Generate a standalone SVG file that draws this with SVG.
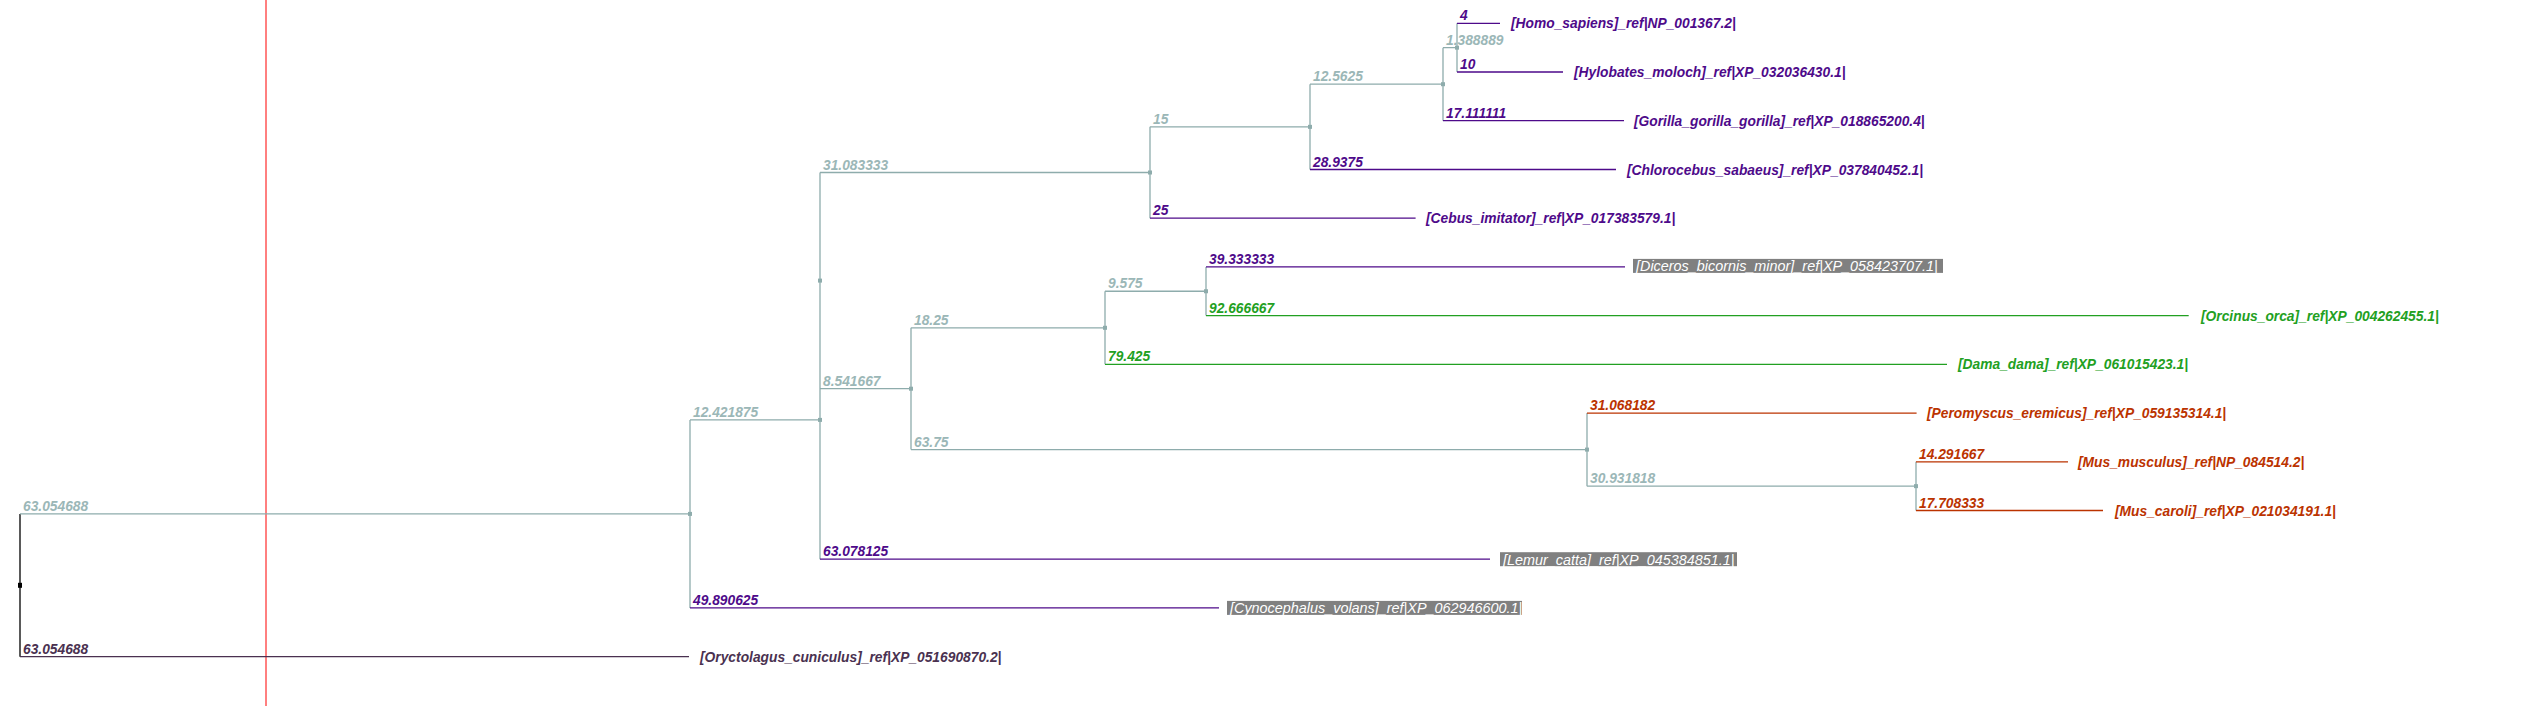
<svg xmlns="http://www.w3.org/2000/svg" width="2542" height="706" viewBox="0 0 2542 706">
<style>
text{font-family:"Liberation Sans",Arial,sans-serif;font-style:italic;font-weight:bold;font-size:13.8px}
.g{stroke:#8eacac;stroke-width:1.3;fill:none}
.p{stroke:#4e0a8a;stroke-width:1.3;fill:none}
.gr{stroke:#22a022;stroke-width:1.3;fill:none}
.r{stroke:#bb3300;stroke-width:1.3;fill:none}
.d{stroke:#4a3150;stroke-width:1.3;fill:none}
.k{stroke:#000;stroke-width:1.3;fill:none}
.tg{fill:#9bb7b7}
.tp{fill:#4e0a8a}
.tgr{fill:#22a022}
.tr{fill:#bb3300}
.td{fill:#4a3150}
.box{fill:#808080}
.tb{fill:#fff;font-weight:normal;font-size:14.4px}
.sq{fill:#8eacac}
</style>
<rect width="2542" height="706" fill="#fff"/>
<line x1="266" y1="0" x2="266" y2="706" stroke="#ff0000" stroke-width="1"/>
<g id="connectors">
<path class="k" d="M20 513.9V656.7"/>
<path class="g" d="M20 513.9H690"/>
<path class="d" d="M20 656.7H689"/>
<path class="g" d="M690 419.9V607.9M690 419.9H820"/>
<path class="p" d="M690 607.9H1219"/>
<path class="g" d="M820 172.5V559.2M820 172.5H1150M820 388.7H911"/>
<path class="p" d="M820 559.2H1490"/>
<path class="g" d="M1150 126.85V218.2M1150 126.85H1310"/>
<path class="p" d="M1150 218.2H1415.6"/>
<path class="g" d="M1310 84.2V169.5M1310 84.2H1443"/>
<path class="p" d="M1310 169.5H1616"/>
<path class="g" d="M1443 47.65V120.7M1443 47.65H1457"/>
<path class="p" d="M1443 120.7H1624"/>
<path class="g" d="M1457 23.3V72"/>
<path class="p" d="M1457 23.3H1500M1457 72H1563"/>
<path class="g" d="M911 327.8V449.6M911 327.8H1105M911 449.6H1587"/>
<path class="g" d="M1105 291.25V364.3M1105 291.25H1206"/>
<path class="gr" d="M1105 364.3H1947"/>
<path class="g" d="M1206 266.9V315.6"/>
<path class="p" d="M1206 266.9H1625"/>
<path class="gr" d="M1206 315.6H2188.7"/>
<path class="g" d="M1587 413.1V486.15M1587 486.15H1916"/>
<path class="r" d="M1587 413.1H1916.6"/>
<path class="g" d="M1916 461.8V510.5"/>
<path class="r" d="M1916 461.8H2068M1916 510.5H2103"/>
</g>
<g id="node-markers">
<rect x="18" y="582.8" width="4" height="5" fill="#000"/>
<rect class="sq" x="688" y="511.9" width="4" height="4"/>
<rect class="sq" x="818" y="417.9" width="4" height="4"/>
<rect class="sq" x="818" y="278.6" width="4" height="4"/>
<rect class="sq" x="1148" y="170.5" width="4" height="4"/>
<rect class="sq" x="1308" y="124.85" width="4" height="4"/>
<rect class="sq" x="1441" y="82.2" width="4" height="4"/>
<rect class="sq" x="1455" y="45.65" width="4" height="4"/>
<rect class="sq" x="909" y="386.7" width="4" height="4"/>
<rect class="sq" x="1103" y="325.8" width="4" height="4"/>
<rect class="sq" x="1204" y="289.25" width="4" height="4"/>
<rect class="sq" x="1585" y="447.6" width="4" height="4"/>
<rect class="sq" x="1914" y="484.15" width="4" height="4"/>
</g>
<g id="branch-labels">
<text class="tg" x="23" y="510.9">63.054688</text>
<text class="td" x="23" y="653.7">63.054688</text>
<text class="tg" x="693" y="416.9">12.421875</text>
<text class="tp" x="693" y="604.9">49.890625</text>
<text class="tg" x="823" y="169.5">31.083333</text>
<text class="tg" x="823" y="385.7">8.541667</text>
<text class="tp" x="823" y="556.2">63.078125</text>
<text class="tg" x="1153" y="123.85">15</text>
<text class="tp" x="1153" y="215.2">25</text>
<text class="tg" x="1313" y="81.2">12.5625</text>
<text class="tp" x="1313" y="166.5">28.9375</text>
<text class="tg" x="1446" y="44.65">1.388889</text>
<text class="tp" x="1446" y="117.7">17.111111</text>
<text class="tp" x="1460" y="20.3">4</text>
<text class="tp" x="1460" y="69">10</text>
<text class="tg" x="914" y="324.8">18.25</text>
<text class="tg" x="914" y="446.6">63.75</text>
<text class="tg" x="1108" y="288.25">9.575</text>
<text class="tgr" x="1108" y="361.3">79.425</text>
<text class="tp" x="1209" y="263.9">39.333333</text>
<text class="tgr" x="1209" y="312.6">92.666667</text>
<text class="tr" x="1590" y="410.1">31.068182</text>
<text class="tg" x="1590" y="483.15">30.931818</text>
<text class="tr" x="1919" y="458.8">14.291667</text>
<text class="tr" x="1919" y="507.5">17.708333</text>
</g>
<g id="leaf-homo"><text class="tp" x="1511" y="28.3">[Homo_sapiens]_ref|NP_001367.2|</text></g>
<g id="leaf-hylobates"><text class="tp" x="1574" y="77">[Hylobates_moloch]_ref|XP_032036430.1|</text></g>
<g id="leaf-gorilla"><text class="tp" x="1634" y="125.7">[Gorilla_gorilla_gorilla]_ref|XP_018865200.4|</text></g>
<g id="leaf-chlorocebus"><text class="tp" x="1627" y="174.5">[Chlorocebus_sabaeus]_ref|XP_037840452.1|</text></g>
<g id="leaf-cebus"><text class="tp" x="1426" y="223.2">[Cebus_imitator]_ref|XP_017383579.1|</text></g>
<g id="leaf-diceros"><rect class="box" x="1633" y="258.9" width="310" height="14"/><text class="tb" x="1636" y="271.4">[Diceros_bicornis_minor]_ref|XP_058423707.1|</text></g>
<g id="leaf-orcinus"><text class="tgr" x="2201" y="320.6">[Orcinus_orca]_ref|XP_004262455.1|</text></g>
<g id="leaf-dama"><text class="tgr" x="1958" y="369.3">[Dama_dama]_ref|XP_061015423.1|</text></g>
<g id="leaf-peromyscus"><text class="tr" x="1927" y="418.1">[Peromyscus_eremicus]_ref|XP_059135314.1|</text></g>
<g id="leaf-musmusculus"><text class="tr" x="2078" y="466.8">[Mus_musculus]_ref|NP_084514.2|</text></g>
<g id="leaf-muscaroli"><text class="tr" x="2115" y="515.5">[Mus_caroli]_ref|XP_021034191.1|</text></g>
<g id="leaf-lemur"><rect class="box" x="1500" y="552.2" width="237" height="14"/><text class="tb" x="1503" y="564.7">[Lemur_catta]_ref|XP_045384851.1|</text></g>
<g id="leaf-cynocephalus"><rect class="box" x="1227" y="600.9" width="295" height="14"/><text class="tb" x="1230" y="613.4">[Cynocephalus_volans]_ref|XP_062946600.1|</text></g>
<g id="leaf-oryctolagus"><text class="td" x="700" y="661.7">[Oryctolagus_cuniculus]_ref|XP_051690870.2|</text></g>
</svg>
